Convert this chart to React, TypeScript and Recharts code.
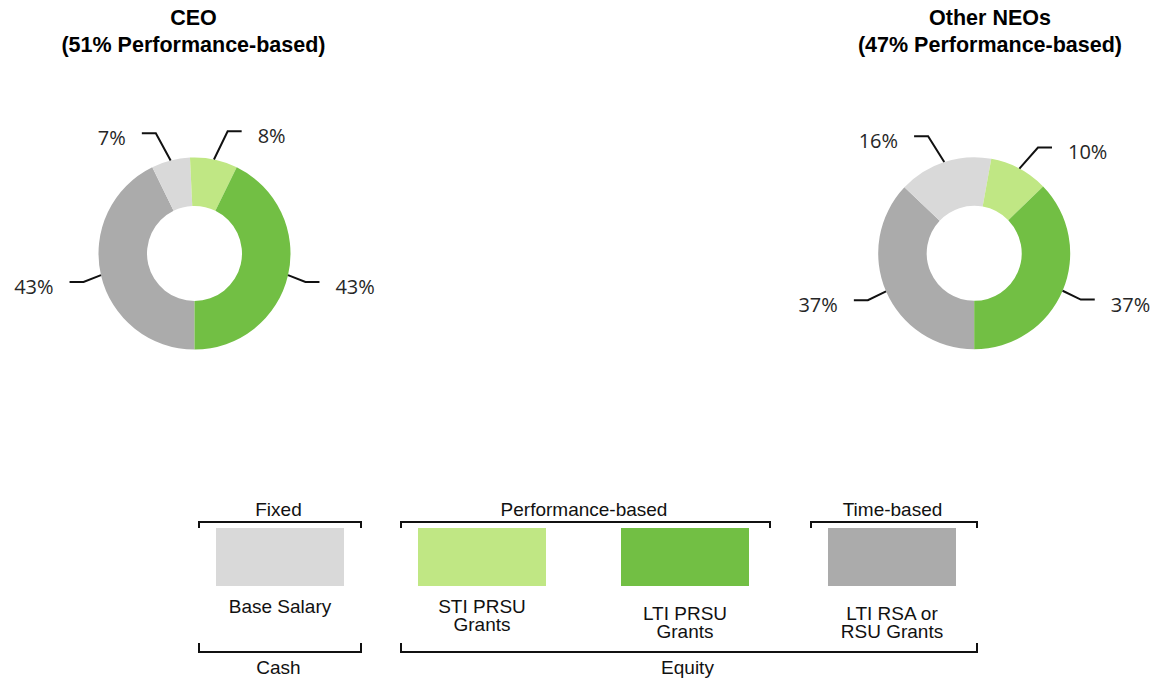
import React from 'react';
import { PieChart, Pie, Cell } from 'recharts';

// ---- data ----
const categories = ['Base Salary', 'STI PRSU Grants', 'LTI PRSU Grants', 'LTI RSA or RSU Grants'];
const legendLines = [['Base Salary'], ['STI PRSU', 'Grants'], ['LTI PRSU', 'Grants'], ['LTI RSA or', 'RSU Grants']];
const colors = ['#D9D9D9', '#C0E784', '#72BF44', '#ABABAB'];
const ceoValues = [6.5, 8, 42.75, 42.75];
const neoValues = [15.8, 9.9, 37.25, 37.05];
const pieOrder = [3, 0, 1, 2]; // drawing order, clockwise from 6 o'clock
const chartTitles = [
  ['CEO', '(51% Performance-based)'],
  ['Other NEOs', '(47% Performance-based)'],
];
const groupTop = ['Fixed', 'Performance-based', 'Time-based'];
const groupBottom = ['Cash', 'Equity'];

// ---- layout ----
const W = 1159;
const H = 682;
const pies = [
  { cx: 194.5, cy: 253.5, values: ceoValues, titleX: 193.5 },
  { cx: 974.2, cy: 253.3, values: neoValues, titleX: 990 },
];
const boxLeft = [216, 418, 621, 828];
const boxW = 128;
const boxTop = 528;
const boxH = 58;
const itemBaseline = [613, 613, 620, 620];
const topBrackets = [
  [199, 361],
  [401, 770],
  [811, 977],
];
const bottomBrackets = [
  [199, 361],
  [401, 977],
];

const RAD = Math.PI / 180;

const renderLabel = (props: any) => {
  const { cx, cy, midAngle, outerRadius, value } = props;
  const a = -midAngle * RAD;
  const cosA = Math.cos(a);
  const sinA = Math.sin(a);
  const sx = cx + outerRadius * cosA;
  const sy = cy + outerRadius * sinA;
  const vert = Math.abs(sinA);
  const re = outerRadius + 16 + 14 * Math.pow(vert, 4);
  const side = cosA >= 0 ? 1 : -1;
  const ex = cx + re * cosA + side * 8 * vert;
  const ey = cy + re * sinA + 4 * (1 - vert);
  const hx = ex + side * 14;
  const tx = hx + side * 16;
  return (
    <g>
      <polyline
        points={`${sx},${sy} ${ex},${ey} ${hx},${ey}`}
        stroke="#111"
        strokeWidth={2}
        fill="none"
      />
      <text
        x={tx}
        y={ey + 12}
        textAnchor={side > 0 ? 'start' : 'end'}
        fontFamily="'Open Sans', 'Noto Sans', sans-serif"
        fontSize={20}
        fontWeight={400}
        fill="#262626"
        stroke="none"
      >
        {Math.round(value)}%
      </text>
    </g>
  );
};

const legendFont = "'Liberation Sans', Arial, sans-serif";

export default function App() {
  return (
    <div style={{ position: 'absolute', left: 0, top: 0, width: W, height: H, background: '#fff' }}>
      <PieChart width={W} height={H} margin={{ top: 0, right: 0, bottom: 0, left: 0 }}>
        {pies.map((p, k) => (
          <Pie
            key={k}
            data={pieOrder.map((i) => ({ name: categories[i], value: p.values[i], color: colors[i] }))}
            dataKey="value"
            nameKey="name"
            cx={p.cx}
            cy={p.cy}
            innerRadius={47.5}
            outerRadius={96}
            startAngle={-90}
            endAngle={-450}
            stroke="none"
            isAnimationActive={false}
            label={renderLabel}
            labelLine={false}
          >
            {pieOrder.map((i) => (
              <Cell key={i} fill={colors[i]} />
            ))}
          </Pie>
        ))}
      </PieChart>
      <svg
        width={W}
        height={H}
        style={{ position: 'absolute', left: 0, top: 0, pointerEvents: 'none' }}
      >
        {pies.map((p, k) => (
          <text
            key={k}
            x={p.titleX}
            textAnchor="middle"
            fontFamily={legendFont}
            fontWeight="bold"
            fontSize={21.5}
            fill="#000"
          >
            <tspan x={p.titleX} y={25}>{chartTitles[k][0]}</tspan>
            <tspan x={p.titleX} y={52}>{chartTitles[k][1]}</tspan>
          </text>
        ))}
        {topBrackets.map(([x1, x2], k) => (
          <g key={'t' + k}>
            <polyline points={`${x1},528 ${x1},522 ${x2},522 ${x2},528`} stroke="#111" strokeWidth={2} fill="none" />
            <text x={(x1 + x2) / 2 - 1.5} y={516} textAnchor="middle" fontFamily={legendFont} fontSize={19} fill="#111">
              {groupTop[k]}
            </text>
          </g>
        ))}
        {bottomBrackets.map(([x1, x2], k) => (
          <g key={'b' + k}>
            <polyline points={`${x1},643 ${x1},652 ${x2},652 ${x2},643`} stroke="#111" strokeWidth={2} fill="none" />
            <text x={(x1 + x2) / 2 - 1.5} y={674} textAnchor="middle" fontFamily={legendFont} fontSize={19} fill="#111">
              {groupBottom[k]}
            </text>
          </g>
        ))}
        {categories.map((c, i) => (
          <g key={c}>
            <rect x={boxLeft[i]} y={boxTop} width={boxW} height={boxH} fill={colors[i]} />
            <text textAnchor="middle" fontFamily={legendFont} fontSize={19} fill="#111">
              {legendLines[i].map((ln, j) => (
                <tspan key={j} x={boxLeft[i] + boxW / 2} y={itemBaseline[i] + j * 18}>
                  {ln}
                </tspan>
              ))}
            </text>
          </g>
        ))}
      </svg>
    </div>
  );
}
